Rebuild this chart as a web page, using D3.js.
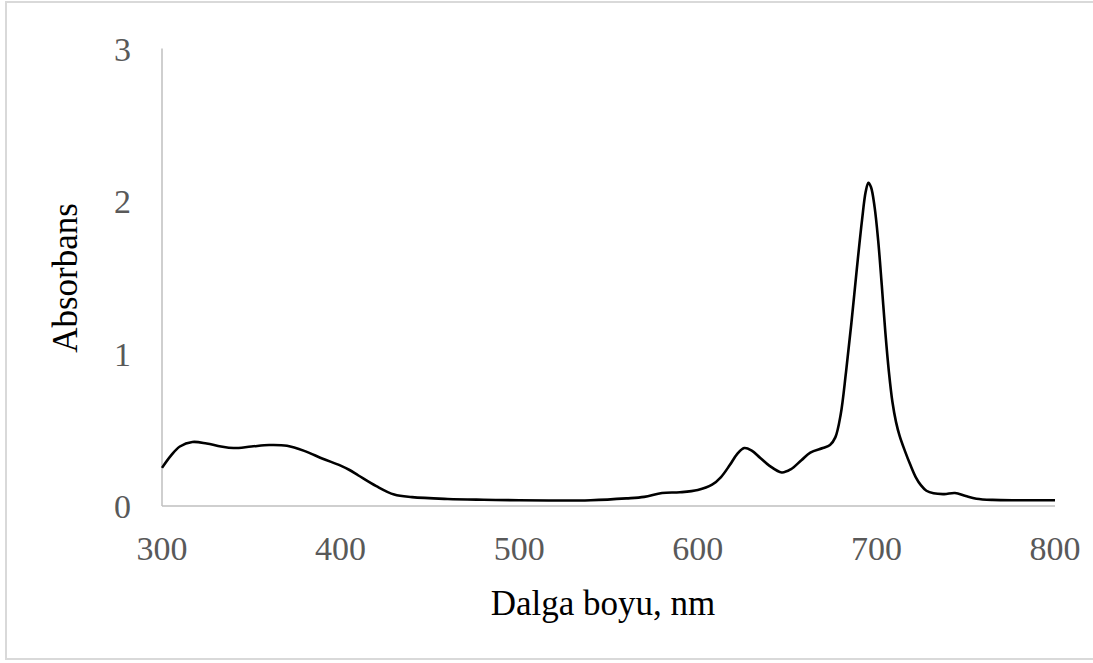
<!DOCTYPE html>
<html><head><meta charset="utf-8">
<script src="https://cdn.jsdelivr.net/npm/d3@7"></script>
<style>body{margin:0;background:#fff}svg{display:block}</style>
</head><body>
<svg id="c" width="1093" height="663"></svg>
<script>
const wavelengths = [300,305,310,317,325,333,340,350,360,370,380,390,400,405,410,420,430,440,460,480,500,520,540,560,570,580,590,600,608,613,618,622,626,630,635,640,647,652,658,663,670,674,677,680,683,686,689,692,694,695.5,697,699,701,703,705,707,709,711,713,716,719,722,725,728,732,738,744,750,756,765,780,800];
const absorbance  = [0.25,0.33,0.39,0.42,0.41,0.39,0.38,0.39,0.40,0.395,0.36,0.31,0.265,0.236,0.20,0.13,0.075,0.058,0.046,0.041,0.038,0.036,0.038,0.05,0.06,0.085,0.09,0.105,0.14,0.19,0.27,0.34,0.38,0.365,0.315,0.265,0.22,0.24,0.30,0.35,0.38,0.40,0.45,0.6,0.88,1.2,1.55,1.88,2.06,2.12,2.09,1.96,1.74,1.45,1.14,0.88,0.68,0.55,0.46,0.36,0.27,0.19,0.135,0.1,0.083,0.078,0.085,0.065,0.048,0.04,0.038,0.038];
const xTicks = [300,400,500,600,700,800];
const yTicks = [0,1,2,3];
const xTitle = "Dalga boyu, nm";
const yTitle = "Absorbans";

const svg = d3.select("#c");
const x = d3.scaleLinear().domain([300,800]).range([162,1055]);
const y = d3.scaleLinear().domain([0,3]).range([506,48.5]);

svg.append("rect").attr("x",6).attr("y",2).attr("width",1200).attr("height",657)
  .attr("fill","none").attr("stroke","#d9d9d9").attr("stroke-width",2);

const font = "'Liberation Serif','Times New Roman',serif";

svg.append("line").attr("x1",x(300)).attr("x2",x(300)).attr("y1",y(3)).attr("y2",y(0))
  .attr("stroke","#bfbfbf").attr("stroke-width",1.5);
svg.append("line").attr("x1",x(300)).attr("x2",x(800)).attr("y1",y(0)).attr("y2",y(0))
  .attr("stroke","#bfbfbf").attr("stroke-width",1.5);

svg.selectAll(".xt").data(xTicks).enter().append("text")
  .attr("x",d=>x(d)).attr("y",560).attr("text-anchor","middle")
  .attr("font-family",font).attr("font-size",34).attr("fill","#595959").text(d=>d);
svg.selectAll(".yt").data(yTicks).enter().append("text")
  .attr("x",131).attr("y",d=>y(d)+12).attr("text-anchor","end")
  .attr("font-family",font).attr("font-size",34).attr("fill","#595959").text(d=>d);

svg.append("text").attr("x",603).attr("y",615).attr("text-anchor","middle")
  .attr("font-family",font).attr("font-size",35).attr("fill","#000").text(xTitle);
svg.append("text").attr("transform","translate(77,278) rotate(-90)").attr("text-anchor","middle")
  .attr("font-family",font).attr("font-size",35).attr("fill","#000").text(yTitle);

const data = wavelengths.map((w,i)=>[w,absorbance[i]]);
svg.append("path").datum(data)
  .attr("d", d3.line().x(d=>x(d[0])).y(d=>y(d[1])).curve(d3.curveCatmullRom.alpha(0.5)))
  .attr("fill","none").attr("stroke","#000").attr("stroke-width",2.6);
</script>
</body></html>
